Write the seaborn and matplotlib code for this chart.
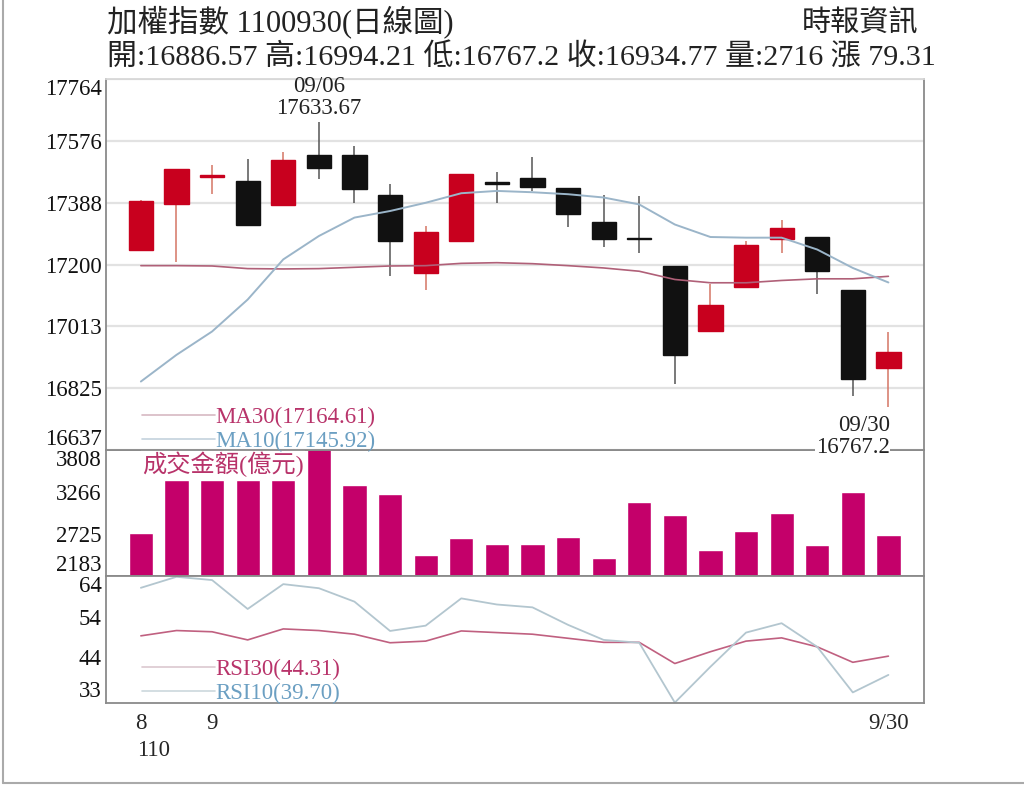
import numpy as np
import pandas as pd
import matplotlib
matplotlib.use("Agg")
import matplotlib.pyplot as plt
from matplotlib.lines import Line2D
import seaborn as sns

# daily data, 110/08/30 - 110/09/30
dates = ["08/30", "08/31", "09/01", "09/02", "09/03", "09/06", "09/07", "09/08",
         "09/09", "09/10", "09/13", "09/14", "09/15", "09/16", "09/17", "09/22",
         "09/23", "09/24", "09/27", "09/28", "09/29", "09/30"]
open_ = [17244, 17385, 17466, 17454, 17381, 17533, 17533, 17411, 17175, 17271, 17450,
         17462, 17434, 17331, 17281, 17195, 16997, 17131, 17279, 17285, 17124, 16886.57]
high = [17395, 17490, 17503, 17522, 17541, 17633.67, 17559, 17444, 17317, 17476, 17482,
        17528, 17434, 17411, 17409, 17195, 17140, 17272, 17335, 17285, 17124, 16994.21]
low = [17240, 17208, 17414, 17320, 17381, 17461, 17388, 17165, 17122, 17268, 17388,
       17424, 17315, 17253, 17234, 16837, 16997, 17131, 17234, 17112, 16800, 16767.2]
close = [17393, 17490, 17472, 17320, 17517, 17495, 17431, 17271, 17300, 17474, 17446,
         17436, 17353, 17279, 17277, 16927, 17076, 17259, 17312, 17182, 16853, 16934.77]

ma10 = [16845, 16926, 16997, 17094, 17216, 17287, 17343, 17363, 17388, 17417, 17424,
        17420, 17414, 17404, 17383, 17322, 17284, 17282, 17282, 17246, 17190, 17145.92]
ma30 = [17197, 17197, 17196, 17188, 17187, 17188, 17192, 17196, 17197, 17204, 17206,
        17203, 17197, 17190, 17180, 17155, 17145, 17145, 17152, 17157, 17157, 17164.61]

volume = [2733, 3421, 3421, 3421, 3421, 3850, 3357, 3241, 2454, 2669, 2592,
          2600, 2682, 2411, 3142, 2970, 2518, 2767, 2992, 2583, 3271, 2716]

rsi10 = [61.1, 63.8, 63.0, 55.9, 62.0, 61.0, 57.7, 50.5, 51.8, 58.5, 57.0,
         56.3, 52.0, 48.3, 47.6, 32.9, 41.7, 50.1, 52.4, 46.6, 35.4, 39.70]
rsi30 = [49.3, 50.6, 50.3, 48.3, 51.0, 50.6, 49.7, 47.6, 48.0, 50.5, 50.1,
         49.7, 48.7, 47.7, 47.7, 42.5, 45.4, 48.0, 48.8, 46.6, 42.8, 44.31]

price_ticks = [16637, 16825, 17013, 17200, 17388, 17576, 17764]
vol_ticks = [2183, 2725, 3266, 3808]
rsi_ticks = [33, 44, 54, 64]
x_labels = {0: "8", 2: "9", 21: "9/30"}

df = pd.DataFrame({"idx": np.arange(len(dates)), "date": dates, "open": open_,
                   "high": high, "low": low, "close": close, "ma10": ma10,
                   "ma30": ma30, "vol": volume, "rsi10": rsi10, "rsi30": rsi30})

sns.set_theme(style="white")
plt.rcParams["font.family"] = ["Liberation Serif", "Noto Sans CJK TC", "DejaVu Sans"]

RED = "#c8001e"
BLACK = "#111111"
BAR = "#c4006a"
MA30_C = "#b06078"
MA10_C = "#9bb5c9"
SPINE = "#8a8a8a"
FS = 16.5

fig = plt.figure(figsize=(10.24, 7.85), dpi=100)
W, H = 1024, 785
left, right = 106, 924


def box(top, bottom):
    return [left / W, 1 - bottom / H, (right - left) / W, (bottom - top) / H]


ax_p = fig.add_axes(box(79, 450))
ax_v = fig.add_axes(box(450, 576))
ax_r = fig.add_axes(box(576, 703))
ax_p.set_zorder(3)

# candlesticks
for _, r in df.iterrows():
    up = r["close"] >= r["open"]
    col = RED if up else BLACK
    wick = "#d57565" if up else "#555555"
    ax_p.vlines(r["idx"], r["low"], r["high"], color=wick, lw=1.1, zorder=2)
    ax_p.bar(r["idx"], abs(r["close"] - r["open"]), bottom=min(r["open"], r["close"]),
             width=0.68, color=col, edgecolor=col, lw=1, zorder=3)

sns.lineplot(data=df, x="idx", y="ma30", ax=ax_p, color=MA30_C, lw=1.2, zorder=4)
sns.lineplot(data=df, x="idx", y="ma10", ax=ax_p, color=MA10_C, lw=1.4, zorder=4)

ax_p.set_ylim(price_ticks[0], price_ticks[-1])
ax_p.set_yticks(price_ticks)
ax_p.set_yticklabels([str(t) for t in price_ticks])
ax_p.grid(axis="y", color="#e2e2e2", lw=1.6)
ax_p.set_axisbelow(True)

# high / low notes
ax_p.annotate("09/06\n17633.67", xy=(5, high[5]), xytext=(0, 2), textcoords="offset points",
              ha="center", va="bottom", fontsize=FS, linespacing=1.05, color="#222222")
ax_p.annotate("09/30\n16767.2", xy=(21, low[21]), xytext=(1, -6), textcoords="offset points",
              ha="right", va="top", fontsize=FS, linespacing=1.05, color="#222222",
              annotation_clip=False,
              bbox=dict(facecolor="white", edgecolor="none", pad=0.5))

h_p = [Line2D([], [], color="#d7b9c2", lw=1.2), Line2D([], [], color="#c3d2dd", lw=1.2)]
leg = ax_p.legend(h_p, ["MA30(17164.61)", "MA10(17145.92)"], loc="lower left",
                  bbox_to_anchor=(36 / 818, -0.005), frameon=False, fontsize=FS,
                  handlelength=3.2, handletextpad=0.0, labelspacing=0.12,
                  borderpad=0, borderaxespad=0)
for t, c in zip(leg.get_texts(), ["#b8336a", "#6b9fc2"]):
    t.set_color(c)

# volume
sns.barplot(data=df, x="idx", y="vol", ax=ax_v, color=BAR, saturation=1, width=0.68,
            native_scale=True)
ax_v.set_ylim(vol_ticks[0], vol_ticks[-1])
ax_v.set_yticks(vol_ticks)
ax_v.set_yticklabels([str(t) for t in vol_ticks])
ax_v.text(36 / 818, 0.985, "成交金額(億元)", transform=ax_v.transAxes, ha="left", va="top",
          fontsize=17.5, color="#b8336a", zorder=10,
          bbox=dict(facecolor="white", edgecolor="none", pad=1.0))

# RSI
sns.lineplot(data=df, x="idx", y="rsi30", ax=ax_r, color="#c06080", lw=1.2)
sns.lineplot(data=df, x="idx", y="rsi10", ax=ax_r, color="#b3c6cf", lw=1.3)
ax_r.set_ylim(rsi_ticks[0] - 0.2, rsi_ticks[-1])
ax_r.set_yticks(rsi_ticks)
ax_r.set_yticklabels([str(t) for t in rsi_ticks])
h_r = [Line2D([], [], color="#dcc8cf", lw=1.2), Line2D([], [], color="#ccd8dd", lw=1.2)]
leg2 = ax_r.legend(h_r, ["RSI30(44.31)", "RSI10(39.70)"], loc="lower left",
                   bbox_to_anchor=(36 / 818, -0.01), frameon=False, fontsize=FS,
                   handlelength=3.2, handletextpad=0.0, labelspacing=0.12,
                   borderpad=0, borderaxespad=0)
for t, c in zip(leg2.get_texts(), ["#b8336a", "#6b9fc2"]):
    t.set_color(c)

ax_r.set_xticks(df["idx"])
ax_r.set_xticklabels([x_labels.get(i, "") for i in df["idx"]])
ax_r.tick_params(axis="x", length=4, width=1, color=SPINE, direction="out",
                 labelsize=FS, pad=3)
ax_r.annotate("110", xy=(0, 0), xycoords=("data", "axes fraction"), xytext=(-3, -27),
              textcoords="offset points", ha="left", va="top", fontsize=FS,
              annotation_clip=False)

for ax in (ax_p, ax_v, ax_r):
    ax.set_xlim(-0.98, 22.0)
    ax.set_xlabel("")
    ax.set_ylabel("")
    ax.tick_params(axis="y", length=0, labelsize=FS, pad=3, labelcolor="#111111")
    for s in ax.spines.values():
        s.set_color(SPINE)
        s.set_linewidth(1.3)
    if ax is not ax_r:
        ax.tick_params(axis="x", bottom=False, labelbottom=False)
ax_p.spines["top"].set_color("#d8d8d8")

# push end tick labels inside the panel
for ax in (ax_p, ax_v, ax_r):
    labs = ax.get_yticklabels()
    labs[0].set_va("bottom")
    labs[-1].set_va("top")

# headings
fig.text(107 / W, 1 - 22 / H, "加權指數 1100930(日線圖)", fontsize=22, ha="left",
         va="center", color="#222222")
fig.text(107 / W, 1 - 58 / H,
         "開:16886.57 高:16994.21 低:16767.2 收:16934.77 量:2716 漲 79.31",
         fontsize=21.6, ha="left", va="center", color="#222222")
fig.text(918 / W, 1 - 24 / H, "時報資訊", fontsize=21, ha="right", va="center",
         color="#222222")

# outer frame
fig.add_artist(Line2D([3 / W, 3 / W], [1 - 783 / H, 1.0], transform=fig.transFigure,
                      color="#aaaaaa", lw=1.5))
fig.add_artist(Line2D([3 / W, 1.0], [1 - 783 / H, 1 - 783 / H], transform=fig.transFigure,
                      color="#aaaaaa", lw=1.5))

fig.savefig("out.png", dpi=100, facecolor="white")
